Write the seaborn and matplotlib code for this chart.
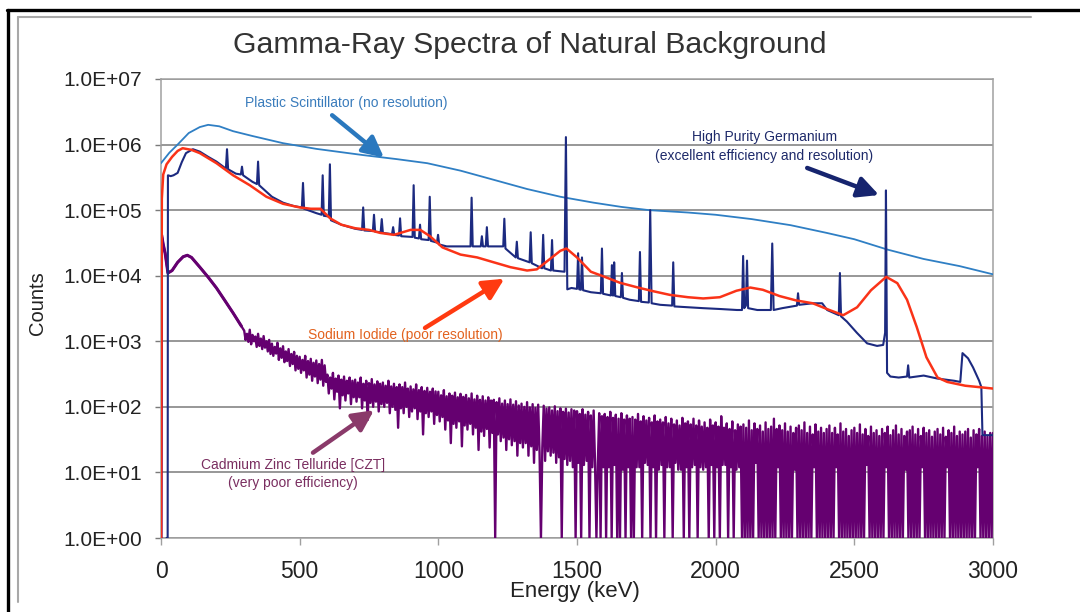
import numpy as np
import pandas as pd
import matplotlib
matplotlib.use("Agg")
import matplotlib.pyplot as plt
from matplotlib.lines import Line2D
from matplotlib.ticker import FixedLocator, FuncFormatter, NullLocator
import seaborn as sns

# ---------------- data ----------------
plastic_energy = [0, 30, 60, 100, 140, 170, 210, 260, 330, 440, 560, 730, 850, 960, 1080,
                  1200, 1320, 1440, 1560, 1660, 1760, 1900, 2000, 2130, 2270, 2400, 2500,
                  2620, 2750, 2880, 3000]
plastic_counts = [5.2e5, 7.5e5, 1.0e6, 1.5e6, 1.85e6, 2.0e6, 1.9e6, 1.6e6, 1.35e6, 1.05e6,
                  8.6e5, 6.9e5, 6.0e5, 5.2e5, 4.0e5, 2.9e5, 2.1e5, 1.6e5, 1.3e5, 1.12e5,
                  1.0e5, 9.2e4, 8.5e4, 7.3e4, 5.9e4, 4.5e4, 3.6e4, 2.5e4, 1.8e4, 1.4e4, 1.05e4]

nai_energy = [0, 3, 8, 20, 40, 60, 78, 110, 140, 200, 260, 320, 380, 440, 500, 540, 575,
              610, 650, 700, 750, 790, 840, 900, 935, 970, 1015, 1080, 1140, 1200, 1260,
              1320, 1355, 1395, 1440, 1462, 1500, 1550, 1600, 1655, 1720, 1775, 1835, 1900,
              1955, 2015, 2075, 2125, 2170, 2230, 2290, 2350, 2410, 2460, 2510, 2560, 2615,
              2655, 2690, 2725, 2760, 2800, 2835, 2900, 2950, 3000]
nai_counts = [1.0, 1.5e5, 3.5e5, 5.0e5, 6.5e5, 8.0e5, 8.8e5, 8.3e5, 7.4e5, 5.2e5, 3.4e5,
              2.4e5, 1.6e5, 1.25e5, 1.1e5, 1.05e5, 1.05e5, 7.5e4, 6.0e4, 5.3e4, 5.0e4,
              4.5e4, 4.2e4, 5.0e4, 5.0e4, 4.0e4, 2.7e4, 2.1e4, 1.9e4, 1.6e4, 1.35e4, 1.2e4,
              1.25e4, 1.7e4, 2.4e4, 2.6e4, 1.9e4, 1.15e4, 9.6e3, 7.8e3, 6.6e3, 5.8e3, 5.1e3,
              4.7e3, 4.5e3, 4.7e3, 5.9e3, 6.6e3, 6.1e3, 4.9e3, 4.2e3, 3.8e3, 3.0e3, 2.5e3,
              3.3e3, 6.0e3, 9.6e3, 7.7e3, 4.3e3, 1.65e3, 5.7e2, 2.8e2, 2.4e2, 2.1e2, 2.0e2,
              1.9e2]

hpge_energy = [20, 24, 25, 35, 45, 60, 75, 90, 115, 140, 170, 200,
               234, 238, 242, 270, 288, 292, 296, 330, 346, 350, 354,
               400, 440, 480, 508, 512, 516, 560, 579, 583, 587, 605, 609, 613,
               650, 700, 725, 729, 733, 764, 768, 772, 792, 796, 800,
               833, 837, 841, 858, 862, 866, 907, 911, 915, 930, 934, 938,
               965, 969, 973, 995, 999, 1003, 1030, 1080, 1116, 1120, 1124,
               1153, 1157, 1161, 1171, 1175, 1179, 1234, 1238, 1242,
               1279, 1283, 1287, 1329, 1333, 1337, 1374, 1378, 1382, 1406, 1410, 1414,
               1455, 1460, 1465, 1480, 1500, 1504, 1508, 1514, 1518, 1522, 1550,
               1586, 1590, 1594, 1622, 1626, 1629, 1631, 1634, 1638, 1658, 1662, 1666,
               1690, 1723, 1727, 1731, 1759, 1764, 1769, 1800, 1843, 1847, 1851,
               1900, 1955, 2020, 2077, 2095, 2099, 2103, 2109, 2113, 2117, 2150,
               2199, 2204, 2209, 2240, 2293, 2297, 2301, 2350, 2384, 2402,
               2444, 2448, 2452, 2473, 2509, 2546, 2582, 2604, 2611, 2614, 2618,
               2630, 2660, 2690, 2694, 2698, 2750, 2800, 2860, 2882, 2890, 2910,
               2928, 2950, 2958, 2962, 3000]
hpge_counts = [1, 1, 3.4e5, 3.3e5, 3.4e5, 3.7e5, 5.4e5, 7.4e5, 8.5e5, 7.8e5, 6.5e5, 5.5e5,
               4.3e5, 8.5e5, 4.2e5, 3.6e5, 3.5e5, 4.6e5, 3.4e5, 2.7e5, 2.5e5, 5.5e5, 2.4e5,
               1.6e5, 1.3e5, 1.15e5, 1.1e5, 2.6e5, 1.05e5, 9.0e4, 8.5e4, 3.4e5, 8.2e4, 8.0e4, 5.0e5, 7.0e4,
               6.0e4, 5.2e4, 5.0e4, 1.1e5, 4.9e4, 4.8e4, 8.5e4, 4.7e4, 4.6e4, 7.3e4, 4.5e4,
               4.3e4, 5.5e4, 4.2e4, 4.1e4, 7.5e4, 4.0e4, 3.9e4, 2.4e5, 3.8e4, 3.7e4, 6.0e4, 3.6e4,
               3.5e4, 1.6e5, 3.4e4, 3.2e4, 4.2e4, 3.0e4, 2.8e4, 2.8e4, 2.8e4, 1.55e5, 2.8e4,
               2.8e4, 4.0e4, 2.8e4, 2.8e4, 5.5e4, 2.8e4, 2.8e4, 7.4e4, 2.6e4,
               1.9e4, 3.3e4, 1.85e4, 1.6e4, 4.6e4, 1.55e4, 1.3e4, 4.2e4, 1.3e4, 1.2e4, 3.5e4, 1.2e4,
               1.15e4, 1.3e6, 6.2e3, 6.5e3, 6.3e3, 2.2e4, 6.2e3, 6.1e3, 1.9e4, 6.0e3, 5.6e3,
               5.4e3, 2.6e4, 5.3e3, 5.0e3, 1.45e4, 5.0e3, 5.0e3, 1.6e4, 4.9e3, 4.7e3, 1.1e4, 4.6e3,
               4.3e3, 4.1e3, 2.3e4, 4.0e3, 3.9e3, 1.0e5, 3.8e3, 3.6e3, 3.5e3, 1.6e4, 3.4e3,
               3.3e3, 3.2e3, 3.1e3, 3.0e3, 3.0e3, 2.0e4, 3.2e3, 3.5e3, 1.7e4, 3.2e3, 3.0e3,
               3.0e3, 3.1e4, 3.0e3, 3.2e3, 3.5e3, 5.4e3, 3.6e3, 3.8e3, 3.8e3, 3.0e3,
               2.5e3, 1.1e4, 2.4e3, 2.0e3, 1.35e3, 9.3e2, 8.5e2, 8.8e2, 1.35e3, 2.0e5, 3.3e2,
               2.9e2, 2.8e2, 2.9e2, 4.3e2, 2.8e2, 3.0e2, 2.7e2, 2.5e2, 2.4e2, 6.6e2, 5.5e2,
               4.0e2, 2.5e2, 2.0e2, 37, 37]

czt_low_energy = [0, 2, 8, 15, 25, 40, 60, 80, 95, 110, 140, 170, 200, 230, 260, 290]
czt_low_counts = [1, 4.2e4, 3.0e4, 2.2e4, 1.1e4, 1.2e4, 1.6e4, 1.95e4, 2.05e4, 1.9e4,
                  1.35e4, 9.5e3, 6.5e3, 4.2e3, 2.7e3, 1.7e3]
czt_channel_energy = list(range(300, 3001, 5))
czt_channel_counts = [
    1450, 1050, 1300, 980, 1500, 900, 1250, 1000, 1180, 820, 1300, 850, 1100, 760, 1200, 800, 1000, 700, 1050, 640,
    920, 600, 820, 650, 950, 520, 780, 560, 840, 480, 700, 500, 760, 420, 640, 450, 690, 360, 600, 380,
    580, 330, 520, 360, 600, 280, 500, 310, 540, 250, 470, 290, 510, 230, 450, 260, 520, 210, 430, 240,
    310, 160, 280, 190, 330, 130, 270, 170, 300, 95, 260, 150, 290, 125, 250, 160, 280, 110, 250, 140,
    260, 120, 235, 140, 280, 95, 225, 125, 250, 63, 230, 115, 265, 100, 220, 120, 245, 85, 225, 110,
    235, 100, 210, 115, 250, 80, 205, 100, 225, 90, 200, 48, 220, 95, 200, 80, 235, 100, 190, 70,
    205, 85, 185, 95, 220, 65, 180, 85, 200, 38, 175, 80, 195, 70, 170, 85, 190, 55, 172, 75,
    170, 60, 150, 70, 180, 45, 145, 62, 160, 28, 148, 55, 165, 48, 140, 60, 158, 25, 142, 52,
    152, 45, 135, 55, 160, 38, 130, 48, 148, 22, 128, 42, 145, 36, 125, 46, 140, 24, 125, 40,
    128, 1, 118, 38, 135, 30, 112, 34, 125, 22, 110, 32, 130, 26, 108, 30, 122, 18, 105, 28,
    112, 24, 100, 28, 118, 18, 98, 25, 110, 14, 96, 22, 108, 20, 1, 24, 104, 15, 94, 21,
    98, 18, 88, 20, 102, 14, 86, 17, 95, 1, 84, 16, 94, 13, 82, 15, 92, 12, 88, 1,
    86, 14, 78, 1, 92, 13, 76, 15, 84, 1, 74, 12, 88, 14, 1, 13, 80, 1, 72, 12,
    78, 1, 70, 12, 84, 1, 68, 13, 76, 1, 66, 1, 80, 11, 64, 1, 74, 12, 66, 1,
    70, 1, 64, 12, 78, 12, 60, 1, 72, 14, 62, 13, 68, 1, 58, 12, 74, 1, 60, 11,
    64, 13, 58, 1, 70, 12, 56, 12, 66, 1, 54, 14, 62, 11, 52, 11, 68, 1, 56, 12,
    60, 1, 54, 12, 66, 13, 52, 1, 62, 12, 50, 11, 58, 12, 48, 1, 64, 13, 52, 1,
    58, 12, 50, 1, 72, 13, 48, 13, 56, 1, 46, 12, 60, 1, 44, 11, 54, 12, 50, 1,
    54, 1, 48, 1, 62, 1, 44, 1, 56, 14, 46, 1, 52, 1, 42, 1, 58, 1, 46, 1,
    50, 1, 66, 1, 46, 12, 52, 1, 44, 1, 56, 1, 42, 1, 50, 1, 40, 11, 48, 1,
    52, 1, 44, 1, 58, 1, 40, 1, 50, 1, 38, 12, 54, 1, 42, 1, 48, 1, 40, 1,
    46, 1, 52, 1, 40, 1, 48, 12, 38, 1, 56, 1, 42, 1, 46, 1, 36, 1, 44, 1,
    48, 1, 40, 1, 54, 1, 38, 1, 46, 13, 36, 1, 50, 1, 40, 1, 44, 1, 36, 1,
    46, 1, 40, 12, 50, 1, 37, 1, 44, 1, 52, 1, 38, 1, 46, 1, 36, 11, 42, 1,
    44, 1, 50, 1, 38, 1, 46, 1, 36, 12, 48, 1, 40, 1, 44, 1, 35, 1, 42, 1,
    46, 1, 38, 1, 48, 1, 35, 12, 44, 1, 40, 1, 50, 1, 36, 1, 42, 1, 38, 1,
    42, 1, 46, 1, 34, 1, 44, 1, 38, 12, 46, 1, 36, 1, 42, 1, 35, 1, 40, 1,
    40]

x_ticks = [0, 500, 1000, 1500, 2000, 2500, 3000]
y_ticks = [1e0, 1e1, 1e2, 1e3, 1e4, 1e5, 1e6, 1e7]

title_text = "Gamma-Ray Spectra of Natural Background"
x_label = "Energy (keV)"
y_label = "Counts"

# ---------------- styling ----------------
sns.set_theme(style="white")
plt.rcParams["font.family"] = ["Liberation Sans", "DejaVu Sans"]
narrow = ["Liberation Sans Narrow", "Liberation Sans", "DejaVu Sans"]

C_PLASTIC = "#2f7fc4"
C_HPGE = "#1c2a80"
C_NAI = "#fa3318"
C_CZT = "#650070"

W, H = 1080, 612
fig = plt.figure(figsize=(W / 100, H / 100), dpi=100)
fig.patch.set_facecolor("white")
ax = fig.add_axes([161 / W, 1 - 538 / H, (993 - 161) / W, (538 - 79) / H])

plastic = pd.DataFrame({"E": plastic_energy, "C": plastic_counts})
nai = pd.DataFrame({"E": nai_energy, "C": nai_counts})
hpge = pd.DataFrame({"E": hpge_energy, "C": hpge_counts})
czt_low = pd.DataFrame({"E": czt_low_energy, "C": czt_low_counts})
czt = pd.DataFrame({"E": czt_low_energy + czt_channel_energy,
                    "C": czt_low_counts + czt_channel_counts})

ax.set_yscale("log")
sns.lineplot(data=plastic, x="E", y="C", ax=ax, color=C_PLASTIC, lw=1.3,
             estimator=None, sort=False, zorder=3)
sns.lineplot(data=czt, x="E", y="C", ax=ax, color=C_CZT, lw=1.7,
             estimator=None, sort=False, zorder=4)
sns.lineplot(data=czt_low, x="E", y="C", ax=ax, color=C_CZT, lw=2.2,
             estimator=None, sort=False, zorder=4)
sns.lineplot(data=hpge, x="E", y="C", ax=ax, color=C_HPGE, lw=1.5,
             estimator=None, sort=False, zorder=5)
sns.lineplot(data=nai, x="E", y="C", ax=ax, color=C_NAI, lw=1.8,
             estimator=None, sort=False, zorder=6)

ax.set_xlim(0, 3000)
ax.set_ylim(1, 1e7)
ax.xaxis.set_major_locator(FixedLocator(x_ticks))
ax.yaxis.set_major_locator(FixedLocator(y_ticks))
ax.yaxis.set_minor_locator(NullLocator())
ax.yaxis.set_major_formatter(FuncFormatter(lambda v, p: f"{v:.1E}"))
ax.xaxis.set_major_formatter(FuncFormatter(lambda v, p: f"{int(v)}"))
ax.grid(axis="y", color="#7a7a7a", lw=1.1, zorder=1)
ax.grid(axis="x", visible=False)
ax.set_axisbelow(True)
for s in ax.spines.values():
    s.set_color("#a0a0a0")
    s.set_linewidth(1.1)
ax.tick_params(axis="y", which="major", left=True, length=4.5, width=1.0,
               color="#7a7a7a", pad=9, labelsize=15, labelcolor="#222222")
ax.tick_params(axis="x", which="major", bottom=True, length=5, width=1.0,
               color="#a0a0a0", pad=11, labelsize=16.5, labelcolor="#222222")
ax.set_xlabel("")
ax.set_ylabel("")

fig.text(530 / W, 1 - 45 / H, title_text, ha="center", va="center",
         fontsize=21.8, color="#333333")
fig.text(575 / W, 1 - 592 / H, x_label, ha="center", va="center",
         fontsize=16, color="#222222")
fig.text(37 / W, 1 - 303 / H, y_label, ha="center", va="center", rotation=90,
         fontsize=14.5, color="#222222")

# annotations
ax.text(667, 4.3e6, "Plastic Scintillator (no resolution)", ha="center", va="center",
        fontsize=10, family=narrow, color="#3a7cbc")
ax.text(2175, 9.4e5, "High Purity Germanium\n(excellent efficiency and resolution)",
        ha="center", va="center", fontsize=10, family=narrow, color="#1e2a6a",
        linespacing=1.45)
ax.text(880, 1.25e3, "Sodium Iodide (poor resolution)", ha="center", va="center",
        fontsize=10, family=narrow, color="#e2621e")
ax.text(476, 9.5, "Cadmium Zinc Telluride [CZT]\n(very poor efficiency)",
        ha="center", va="center", fontsize=10, family=narrow, color="#7a2e60",
        linespacing=1.3)

def arrow(x0, y0, x1, y1, color):
    ax.annotate("", xy=(x1, y1), xytext=(x0, y0),
                arrowprops=dict(arrowstyle="-|>,head_length=0.9,head_width=0.45",
                                color=color, lw=3.2, mutation_scale=14,
                                shrinkA=0, shrinkB=0), zorder=7)

arrow(617, 2.8e6, 804, 6.3e5, "#2a78be")
arrow(2330, 4.4e5, 2589, 1.7e5, "#16246e")
arrow(952, 1.6e3, 1238, 9.0e3, "#ff3a10")
arrow(548, 20, 768, 89, "#8a3a6a")

# outer frame decorations
def fline(x0, y0, x1, y1, color, lw):
    fig.add_artist(Line2D([x0 / W, x1 / W], [1 - y0 / H, 1 - y1 / H],
                          transform=fig.transFigure, color=color, lw=lw))

fline(18, 17, 1031, 17, "#a8a8a8", 1.5)
fline(18, 17, 18, 602, "#a8a8a8", 1.5)
fline(7, 10, 1080, 10, "#000000", 2.4)
fline(8, 10, 8, 612, "#000000", 2.4)

fig.savefig("out.png", dpi=100, facecolor="white")
